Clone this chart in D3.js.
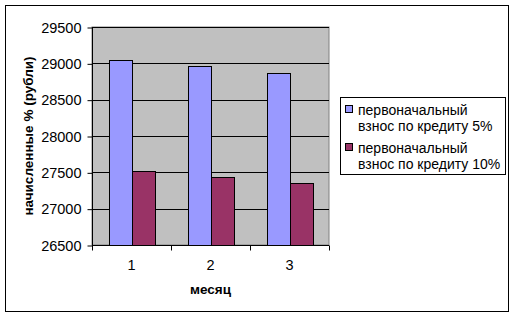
<!DOCTYPE html>
<html>
<head>
<meta charset="utf-8">
<script src="https://cdn.jsdelivr.net/npm/d3@7"></script>
<style>
  body { margin: 0; background: white; }
  text { font-family: "Liberation Sans", Arial, sans-serif; }
</style>
</head>
<body>
<svg id="chart" width="516" height="318"></svg>
<script>
// chart data
var months = ['1', '2', '3']
var seriesNames = ['первоначальный взнос по кредиту 5%', 'первоначальный взнос по кредиту 10%']
var legendLines = [['первоначальный', 'взнос по кредиту 5%'], ['первоначальный', 'взнос по кредиту 10%']]
var credit5 = [29050, 28960, 28870]
var credit10 = [27520, 27435, 27350]
var yTicks = [26500, 27000, 27500, 28000, 28500, 29000, 29500]
var colors = ['#9999ff', '#993366']

var svg = d3.select('#chart')

// outer frame
svg.append('rect')
  .attr('x', 5.5).attr('y', 5.5)
  .attr('width', 503).attr('height', 306)
  .style('fill', 'white').style('stroke', 'black').style('stroke-width', 1)

var plot = {left: 92, top: 27, right: 329, bottom: 245}

var x = d3.scaleBand().domain(months).range([plot.left, plot.right])
var y = d3.scaleLinear().domain([26500, 29500]).range([plot.bottom, plot.top])

// plot background
svg.append('rect')
  .attr('x', plot.left).attr('y', plot.top)
  .attr('width', plot.right - plot.left).attr('height', plot.bottom - plot.top)
  .style('fill', '#c0c0c0').style('stroke', '#808080')

// grid lines
svg.append('g').selectAll('line')
  .data(yTicks.slice(1))
  .join('line')
  .attr('x1', plot.left).attr('x2', plot.right)
  .attr('y1', function(d) { return Math.round(y(d)) + 0.5 })
  .attr('y2', function(d) { return Math.round(y(d)) + 0.5 })
  .style('stroke', 'black')

// bars
var barW = x.bandwidth() / 3.5
var data = [credit5, credit10]
data.forEach(function(vals, s) {
  svg.append('g').selectAll('rect')
    .data(vals)
    .join('rect')
    .attr('x', function(d, i) { return Math.round(x(months[i]) + x.bandwidth() / 2 - barW + s * barW) + 0.5 })
    .attr('y', function(d) { return Math.round(y(d)) + 0.5 })
    .attr('width', Math.round(barW))
    .attr('height', function(d) { return Math.round(plot.bottom - y(d)) })
    .style('fill', colors[s])
    .style('stroke', 'black')
})

// y axis
var yAxis = d3.axisLeft(y).tickValues(yTicks).tickFormat(d3.format('d')).tickSize(5).tickPadding(6)
var gy = svg.append('g').attr('transform', 'translate(' + (plot.left + 0.5) + ',0.5)').call(yAxis)
gy.selectAll('text').style('font-size', '14.5px').style('fill', 'black')
gy.selectAll('line, path').style('stroke', 'black')
gy.select('.domain').attr('d', 'M0,' + plot.top + 'V' + plot.bottom)

// x axis
var xAxis = d3.axisBottom(x).tickSize(0).tickPadding(14)
var gx = svg.append('g').attr('transform', 'translate(0,' + (plot.bottom + 0.5) + ')').call(xAxis)
gx.selectAll('text').style('font-size', '14.5px').style('fill', 'black')
gx.select('.domain').attr('d', 'M' + plot.left + ',0H' + plot.right).style('stroke', 'black')
gx.selectAll('.sep')
  .data(months.concat(['end']))
  .join('line')
  .attr('class', 'sep')
  .attr('x1', function(d, i) { return Math.round(plot.left + i * x.bandwidth()) + 0.5 })
  .attr('x2', function(d, i) { return Math.round(plot.left + i * x.bandwidth()) + 0.5 })
  .attr('y1', 0).attr('y2', 5)
  .style('stroke', 'black')

// axis titles
svg.append('text')
  .attr('x', (plot.left + plot.right) / 2)
  .attr('y', 294)
  .style('text-anchor', 'middle')
  .style('font-size', '13.5px')
  .style('font-weight', 'bold')
  .text('месяц')

svg.append('text')
  .attr('transform', 'translate(33,' + (plot.top + plot.bottom) / 2 + ') rotate(-90)')
  .style('text-anchor', 'middle')
  .style('font-size', '13.5px')
  .style('font-weight', 'bold')
  .text('начисленные % (рубли)')

// legend
var legend = svg.append('g')
legend.append('rect')
  .attr('x', 340.5).attr('y', 97.5)
  .attr('width', 165).attr('height', 77)
  .style('fill', 'white').style('stroke', 'black')

seriesNames.forEach(function(name, s) {
  var top = 105 + s * 38
  legend.append('rect')
    .attr('x', 345.5).attr('y', top + 0.5)
    .attr('width', 7).attr('height', 7)
    .style('fill', colors[s]).style('stroke', 'black')
  legendLines[s].forEach(function(line, k) {
    legend.append('text')
      .attr('x', 358)
      .attr('y', top + 10 + k * 16)
      .style('font-size', '14px')
      .text(line)
  })
})
</script>
</body>
</html>
